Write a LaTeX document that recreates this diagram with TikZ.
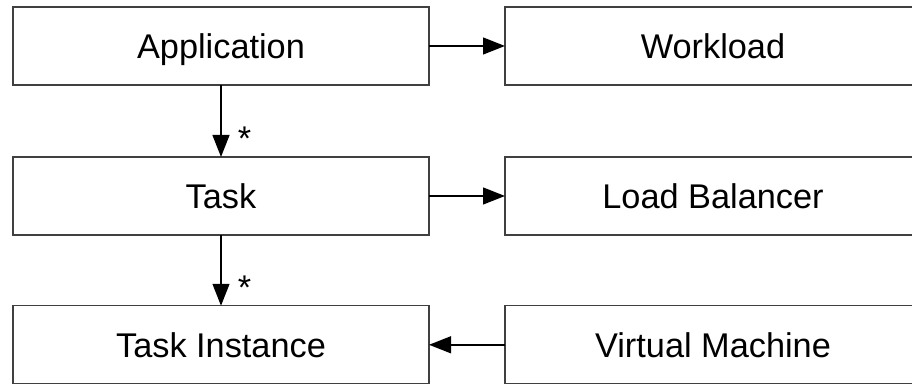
\documentclass[tikz,border=0pt]{standalone}
\usepackage{fontspec}
\setmainfont{Liberation Sans}
\usetikzlibrary{arrows.meta,positioning}

\tikzset{
  entity/.style={draw=black!75, line width=0.9pt, minimum width=10.4cm, minimum height=1.95cm,
                 inner sep=0pt, outer sep=0pt, text height=17.6pt, text depth=0pt,
                 font=\fontsize{24.4}{29}\selectfont},
  assoc/.style={line width=1.4pt, -{Triangle[length=5.5mm,width=4.2mm]}},
  mult/.style={anchor=west, inner sep=0pt, xshift=4mm, font=\fontsize{24.4}{29}\selectfont}
}

\begin{document}
\begin{tikzpicture}
  \useasboundingbox (0,0) rectangle (22.8,9.625);
  \clip (0,0) rectangle (22.8,9.625);

  % left column
  \node[entity] (app) at (5.525,8.475) {Application};
  \node[entity, below=1.8cm of app] (task) {Task};
  \node[entity, below=1.77cm of task] (inst) {Task Instance};

  % right column
  \node[entity, right=1.9cm of app] (work) {Workload};
  \node[entity, right=1.9cm of task] (lb) {Load Balancer};
  \node[entity, right=1.9cm of inst] (vm) {Virtual Machine};

  \draw[assoc] (app) -- node[mult, pos=0.74] {*} (task);
  \draw[assoc] (task) -- node[mult, pos=0.74] {*} (inst);
  \draw[assoc] (app) -- (work);
  \draw[assoc] (task) -- (lb);
  \draw[assoc] (vm) -- (inst);
\end{tikzpicture}
\end{document}
